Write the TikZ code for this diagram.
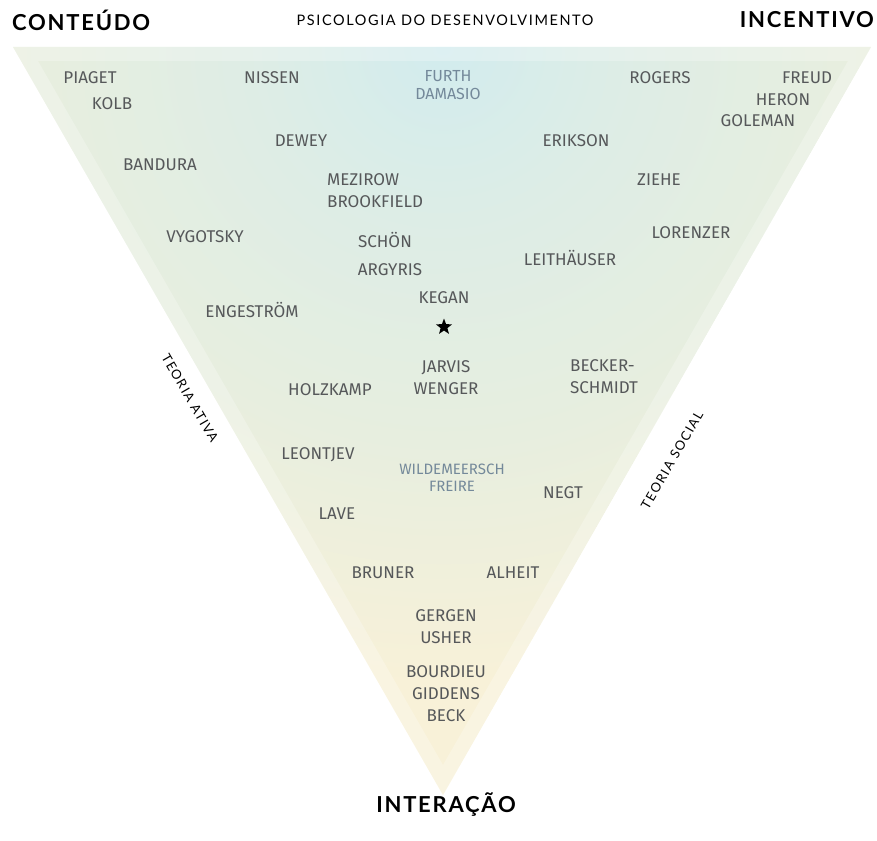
\documentclass[tikz,border=0pt]{standalone}
\usepackage{fontspec}
\setmainfont{Fira Sans}
\newfontfamily\titulofont[LetterSpace=8]{Lato}
\newfontfamily\eixofont[LetterSpace=11]{Lato}
\usetikzlibrary{shapes.geometric}

\definecolor{autorcinza}{HTML}{56585A}
\definecolor{autorazul}{HTML}{74899A}
\definecolor{fundoazul}{HTML}{D2ECEE}
\definecolor{fundoverde}{HTML}{E7EEDF}
\definecolor{fundocreme}{HTML}{F8F1D8}

\pgfdeclareradialshading{fundo}{\pgfpoint{0bp}{0bp}}{color(0bp)=(fundoazul); color(6bp)=(fundoverde!55!fundoazul); color(13bp)=(fundoverde); color(21bp)=(fundocreme); color(25bp)=(fundocreme); color(50bp)=(fundocreme)}

\begin{document}
\begin{tikzpicture}[x=1pt, y=-1pt,
	autor/.style={font=\fontsize{17}{22}\selectfont, text=autorcinza, inner sep=0pt},
	canto/.style={font=\titulofont\bfseries\fontsize{22}{22}\selectfont, text=black, inner sep=0pt},
	eixo/.style={font=\eixofont\fontsize{13}{13}\selectfont, text=black, inner sep=0pt}]
	\useasboundingbox (0,0) rectangle (877,840);

%	triangulo
	\coordinate (topoesq) at (13,47);
	\coordinate (topodir) at (871,47);
	\coordinate (base) at (443,795);
	\coordinate (topoesqi) at (38,61);
	\coordinate (topodiri) at (848,61);
	\coordinate (basei) at (443,765);

	\begin{scope}
		\clip (topoesq) -- (topodir) -- (base) -- cycle;
		\shade[shading=fundo] (443,47) circle (760);
		\fill[white, opacity=.25, even odd rule] (topoesq) -- (topodir) -- (base) -- cycle (topoesqi) -- (topodiri) -- (basei) -- cycle;
	\end{scope}

%	cantos e eixos
	\node[canto, anchor=west] (conteudo) at (12,20) {CONTEÚDO};
	\node[canto, anchor=east] (incentivo) at (874,20) {INCENTIVO};
	\node[canto] (interacao) at (446,805) {INTERAÇÃO};
	\node[eixo, font=\eixofont\fontsize{14.5}{14.5}\selectfont] (psicologia) at (445,20) {PSICOLOGIA DO DESENVOLVIMENTO};
	\node[eixo, rotate=-60] (ativa) at (190,398) {TEORIA ATIVA};
	\node[eixo, rotate=60] (social) at (672,460) {TEORIA SOCIAL};

%	autores
	\node[autor] (piaget) at (90,78) {PIAGET};
	\node[autor] (kolb) at (112,104) {KOLB};
	\node[autor] (nissen) at (272,78) {NISSEN};
	\node[autor, text=autorazul, align=center, font=\fontsize{16}{18}\selectfont] (furth) at (448,85) {FURTH\\DAMASIO};
	\node[autor] (rogers) at (660,78) {ROGERS};
	\node[autor] (freud) at (807,78) {FREUD};
	\node[autor] (heron) at (783,100) {HERON};
	\node[autor] (goleman) at (758,121) {GOLEMAN};
	\node[autor] (dewey) at (301,141) {DEWEY};
	\node[autor] (erikson) at (576,141) {ERIKSON};
	\node[autor] (bandura) at (160,165) {BANDURA};
	\node[autor, align=left, anchor=west] (mezirow) at (327,191) {MEZIROW\\BROOKFIELD};
	\node[autor] (ziehe) at (659,180) {ZIEHE};
	\node[autor] (vygotsky) at (205,237) {VYGOTSKY};
	\node[autor] (schon) at (385,240) {SCHÖN};
	\node[autor] (lorenzer) at (691,233) {LORENZER};
	\node[autor] (leithauser) at (570,258) {LEITHÄUSER};
	\node[autor] (argyris) at (390,270) {ARGYRIS};
	\node[autor] (kegan) at (444,298) {KEGAN};
	\node[star, star points=5, star point ratio=2.4, fill=black, inner sep=0pt, minimum size=17pt] (estrela) at (444,327) {};
	\node[autor] (engestrom) at (252,310) {ENGESTRÖM};
	\node[autor, align=center] (jarvis) at (446,378) {JARVIS\\WENGER};
	\node[autor] (holzkamp) at (330,390) {HOLZKAMP};
	\node[autor, align=left, anchor=west] (becker) at (570,377) {BECKER-\\SCHMIDT};
	\node[autor] (leontjev) at (318,455) {LEONTJEV};
	\node[autor, text=autorazul, align=center, font=\fontsize{15}{17}\selectfont] (wildemeersch) at (452,478) {WILDEMEERSCH\\FREIRE};
	\node[autor] (negt) at (563,493) {NEGT};
	\node[autor] (lave) at (337,514) {LAVE};
	\node[autor] (bruner) at (383,573) {BRUNER};
	\node[autor] (alheit) at (513,573) {ALHEIT};
	\node[autor, align=center] (gergen) at (446,627) {GERGEN\\USHER};
	\node[autor, align=center] (bourdieu) at (446,694) {BOURDIEU\\GIDDENS\\BECK};
\end{tikzpicture}
\end{document}
